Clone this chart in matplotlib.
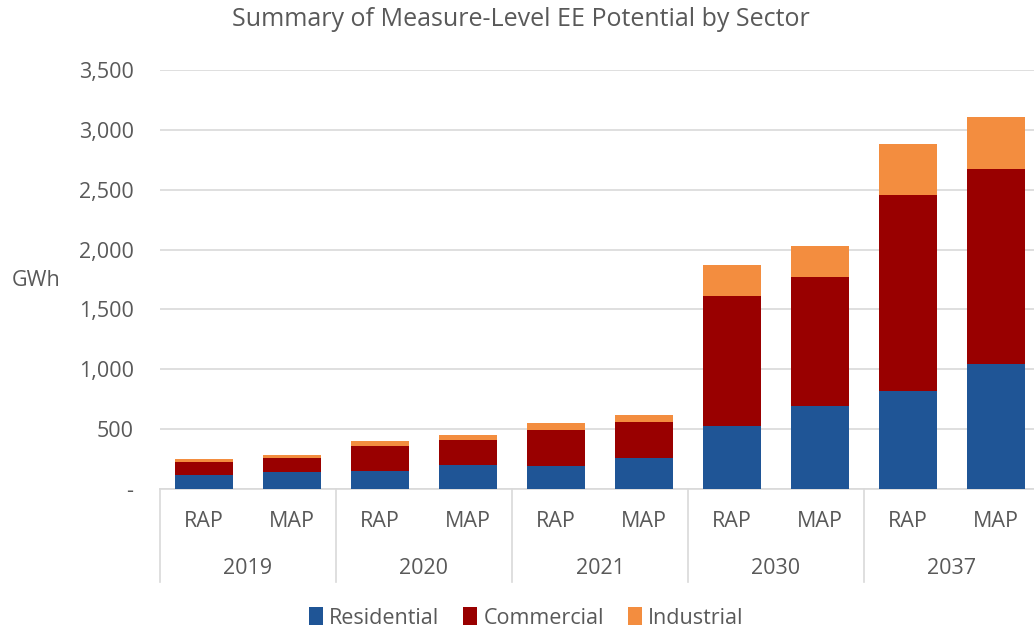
import matplotlib.pyplot as plt
import matplotlib.transforms as mtransforms
import numpy as np

# values (GWh)
years = ['2019', '2020', '2021', '2030', '2037']
scenarios = ['RAP', 'MAP']
residential = [114, 139, 150, 198, 195, 256, 530, 693, 818, 1043]
commercial = [114, 117, 212, 214, 300, 301, 1081, 1074, 1634, 1634]
industrial = [20, 25, 38, 39, 58, 63, 261, 267, 428, 428]

plt.rcParams['font.family'] = ['Open Sans', 'DejaVu Sans']
text_color = '#595959'
grid_color = '#D9D9D9'
fs = 15.5

fig = plt.figure(figsize=(10.34, 6.31), dpi=100)
W, H = 1034, 631
ax = fig.add_axes([160 / W, 1 - 489 / H, 880 / W, 419 / H])

x = np.arange(len(residential))
res = np.array(residential)
com = np.array(commercial)
ind = np.array(industrial)
w = 0.66
ax.bar(x, res, w, color='#1F5596', label='Residential', zorder=3)
ax.bar(x, com, w, bottom=res, color='#990000', label='Commercial', zorder=3)
ax.bar(x, ind, w, bottom=res + com, color='#F38D3F', label='Industrial', zorder=3)

ax.set_xlim(-0.5, len(x) - 0.5)
ax.set_ylim(0, 3500)
yt = np.arange(0, 3501, 500)
ax.set_yticks(yt)
ax.set_yticklabels(['-'] + [f'{v:,}' for v in yt[1:]])
ax.yaxis.grid(True, color=grid_color, linewidth=1.2, zorder=0)
ax.tick_params(axis='y', length=0, pad=19, labelsize=fs, colors=text_color)

ax.set_xticks(x)
ax.set_xticklabels(scenarios * len(years))
ax.tick_params(axis='x', length=0, pad=16, labelsize=fs, colors=text_color)

for s in ['top', 'right', 'left']:
    ax.spines[s].set_visible(False)
ax.spines['bottom'].set_color(grid_color)
ax.spines['bottom'].set_linewidth(1.2)

# group labels and separators below the axis
trans = mtransforms.blended_transform_factory(ax.transData, ax.transAxes)
sep_bottom = -(582 - 489) / 419
for i in range(len(years) + 1):
    xs = 2 * i - 0.5
    ax.plot([xs, xs], [0, sep_bottom], transform=trans, color=grid_color,
            linewidth=1.2, clip_on=False)
for i, yr in enumerate(years):
    ax.text(2 * i + 0.5, -(568 - 489) / 419, yr, transform=trans,
            ha='center', va='center', fontsize=fs, color=text_color)

fig.text(36 / W, 1 - 280 / H, 'GWh', ha='center', va='center',
         fontsize=fs, color=text_color)
fig.text(521 / W, 1 - 20 / H, 'Summary of Measure-Level EE Potential by Sector',
         ha='center', va='center', fontsize=18, color=text_color)

fig.legend(loc='center', bbox_to_anchor=(526 / W, 1 - 618 / H), ncol=3,
           frameon=False, fontsize=fs, labelcolor=text_color,
           handlelength=0.65, handleheight=0.85, handletextpad=0.3,
           columnspacing=1.1)

fig.savefig('out.png', dpi=100)
